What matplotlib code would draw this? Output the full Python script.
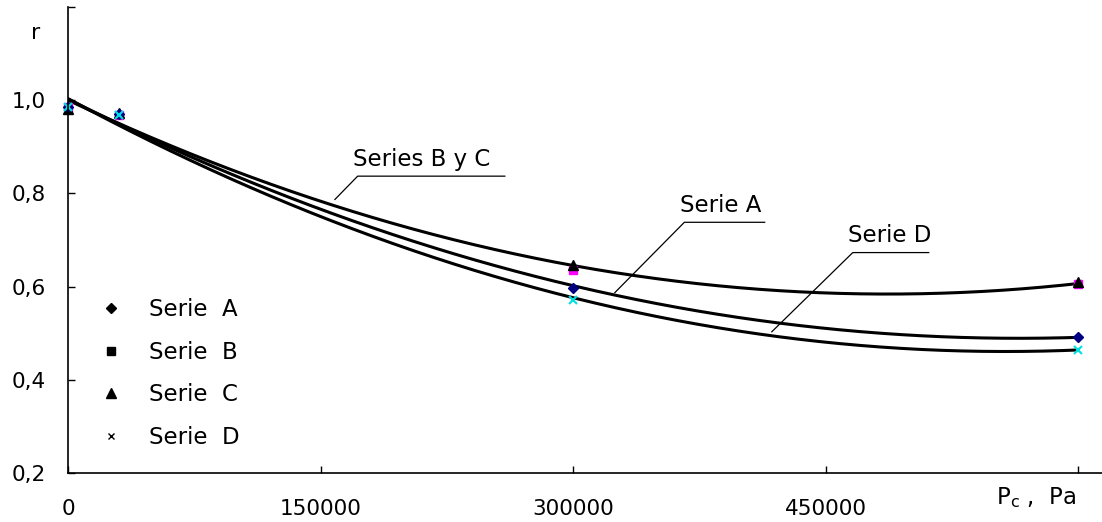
import numpy as np
import matplotlib
matplotlib.use("Agg")
import matplotlib.pyplot as plt
from matplotlib.lines import Line2D

# values
pressure = [0, 30000, 300000, 600000]
serie_a = [0.985, 0.970, 0.598, 0.492]
serie_b = [0.985, 0.968, 0.636, 0.605]
serie_c = [0.982, 0.972, 0.647, 0.610]
serie_d = [0.985, 0.968, 0.572, 0.465]

x_ticks = [0, 150000, 300000, 450000, 600000]
x_labels = ["0", "150000", "300000", "450000", ""]
y_ticks = [0.2, 0.4, 0.6, 0.8, 1.0, 1.2]
y_labels = ["0,2", "0,4", "0,6", "0,8", "1,0", ""]

plt.rcParams["font.family"] = ["DejaVu Sans"]
plt.rcParams["font.size"] = 16

fig = plt.figure(figsize=(11.02, 5.22), dpi=100)
ax = fig.add_axes([68 / 1102, 49 / 522, 1 - 68 / 1102, 466 / 522])

xs = np.linspace(0, 600000, 200)


def trend(x, y):
    coef = np.polyfit(x, y, 2)
    return np.polyval(coef, xs)


ax.plot(xs, trend(pressure * 2, serie_b + serie_c), color="black", lw=2.2)
ax.plot(xs, trend(pressure, serie_a), color="black", lw=2.2)
ax.plot(xs, trend(pressure, serie_d), color="black", lw=2.2)

ax.plot(pressure, serie_b, "s", color="#ff00ff", ms=6, clip_on=False)
ax.plot(pressure, serie_c, "^", color="black", ms=6.5, clip_on=False)
ax.plot(pressure, serie_a, "D", color="#000080", ms=5.5, clip_on=False)
ax.plot(pressure, serie_d, "x", color="#00e0e0", ms=6, mew=1.5, clip_on=False)

# callouts
callouts = [
    ("Series B y C", 172000, 259400, 0.837, 158500, 0.787, 169200, 0.858),
    ("Serie A", 366000, 413700, 0.738, 324700, 0.587, 363300, 0.761),
    ("Serie D", 466000, 511100, 0.673, 417900, 0.503, 463000, 0.695),
]
for label, x0, x1, yl, xe, ye, tx, ty in callouts:
    ax.plot([xe, x0, x1], [ye, yl, yl], color="black", lw=0.9)
    ax.text(tx, ty, label, ha="left", va="baseline", fontsize=16.5)

ax.set_xlim(0, 614000)
ax.set_ylim(0.2, 1.2)
ax.set_xticks(x_ticks)
ax.set_xticklabels(x_labels)
ax.set_yticks(y_ticks)
ax.set_yticklabels(y_labels)
ax.tick_params(direction="in", length=5, width=1, labelsize=15.5)
ax.tick_params(axis="x", pad=19)
ax.tick_params(axis="y", pad=16)
for side in ["top", "right"]:
    ax.spines[side].set_visible(False)
for side in ["left", "bottom"]:
    ax.spines[side].set_linewidth(1.2)

ax.text(-0.031, 0.944, "r", transform=ax.transAxes, fontsize=16,
        ha="center", va="center")
ax.text(0.936, -0.052, r"P$_\mathregular{c}$ ,  Pa", transform=ax.transAxes,
        fontsize=16.5, ha="center", va="center")

handles = [
    Line2D([], [], ls="none", marker="D", color="black", ms=5),
    Line2D([], [], ls="none", marker="s", color="black", ms=6),
    Line2D([], [], ls="none", marker="^", color="black", ms=7),
    Line2D([], [], ls="none", marker="x", color="black", ms=5),
]
ax.legend(handles, ["Serie  A", "Serie  B", "Serie  C", "Serie  D"],
          loc="center left", bbox_to_anchor=(0.011, 0.2135), frameon=False,
          fontsize=16.5, labelspacing=0.85, handlelength=1.0,
          handletextpad=1.15)

fig.savefig("out.png", dpi=100)
